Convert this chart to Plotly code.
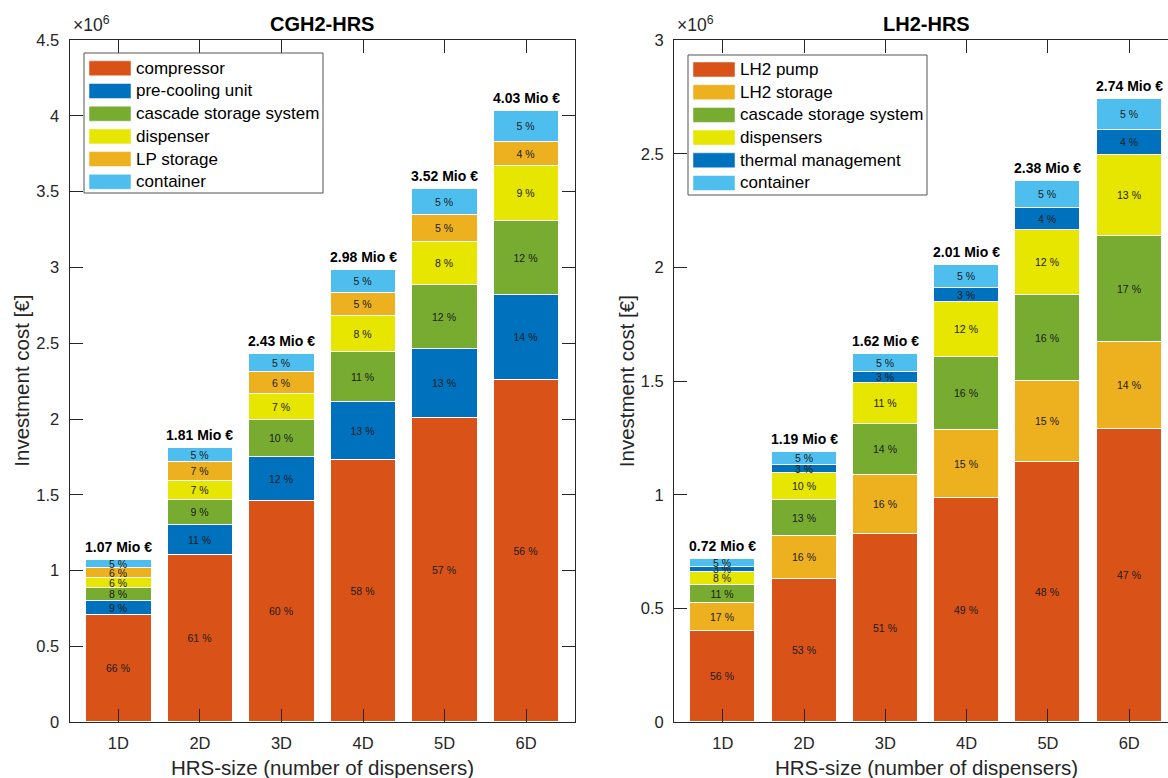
import plotly.graph_objects as go

# ---- data -------------------------------------------------------------
categories = ["1D", "2D", "3D", "4D", "5D", "6D"]
positions = [1, 2, 3, 4, 5, 6]

# CGH2 station: total investment (Mio €) and cost shares (%)
cgh2_total = [1.07, 1.81, 2.43, 2.98, 3.52, 4.03]
cgh2_compressor = [66, 61, 60, 58, 57, 56]
cgh2_precooling = [9, 11, 12, 13, 13, 14]
cgh2_cascade = [8, 9, 10, 11, 12, 12]
cgh2_dispenser = [6, 7, 7, 8, 8, 9]
cgh2_lp_storage = [6, 7, 6, 5, 5, 4]
cgh2_container = [5, 5, 5, 5, 5, 5]

# LH2 station: total investment (Mio €) and cost shares (%)
lh2_total = [0.72, 1.19, 1.62, 2.01, 2.38, 2.74]
lh2_pump = [56, 53, 51, 49, 48, 47]
lh2_storage = [17, 16, 16, 15, 15, 14]
lh2_cascade = [11, 13, 14, 16, 16, 17]
lh2_dispensers = [8, 10, 11, 12, 12, 13]
lh2_thermal = [3, 3, 3, 3, 4, 4]
lh2_container = [5, 5, 5, 5, 5, 5]

y_ticks_cgh2 = [0, 0.5, 1, 1.5, 2, 2.5, 3, 3.5, 4, 4.5]
y_ticks_lh2 = [0, 0.5, 1, 1.5, 2, 2.5, 3]

# ---- colours ----------------------------------------------------------
C_RED = "#D95319"
C_BLUE = "#0072BD"
C_GREEN = "#77AC30"
C_YELLOW = "#E6E600"
C_ORANGE = "#EDB120"
C_CYAN = "#4DBEEE"
AX = "#262626"
FONT = "Liberation Sans, Arial, sans-serif"

cgh2_series = [
    ("compressor", cgh2_compressor, C_RED),
    ("pre-cooling unit", cgh2_precooling, C_BLUE),
    ("cascade storage system", cgh2_cascade, C_GREEN),
    ("dispenser", cgh2_dispenser, C_YELLOW),
    ("LP storage", cgh2_lp_storage, C_ORANGE),
    ("container", cgh2_container, C_CYAN),
]
lh2_series = [
    ("LH2 pump", lh2_pump, C_RED),
    ("LH2 storage", lh2_storage, C_ORANGE),
    ("cascade storage system", lh2_cascade, C_GREEN),
    ("dispensers", lh2_dispensers, C_YELLOW),
    ("thermal management", lh2_thermal, C_BLUE),
    ("container", lh2_container, C_CYAN),
]

# ---- layout geometry (pixels) ----------------------------------------
W, H = 1168, 778
PLOT_TOP, PLOT_BOTTOM = 40, 722.3


def fx(px):
    return px / W


def fy(py):
    return 1 - py / H


# the right panel runs past the page edge: its visible x-range is cut at W
panels = [
    dict(name="CGH2-HRS", series=cgh2_series, total=cgh2_total, yticks=y_ticks_cgh2,
         x0=69.5, x1=575, full_x1=575, legend_box=(84, 53, 323, 193), row0=68.3),
    dict(name="LH2-HRS", series=lh2_series, total=lh2_total, yticks=y_ticks_lh2,
         x0=674, x1=W, full_x1=1178, legend_box=(688, 55, 927, 195), row0=69.5),
]

fig = go.Figure()
annotations = []
shapes = []

for i, p in enumerate(panels):
    suffix = "" if i == 0 else str(i + 1)
    for label, shares, color in p["series"]:
        values = [t * s / 100 * 1e6 for t, s in zip(p["total"], shares)]
        fig.add_trace(go.Bar(
            x=positions, y=values, name=label,
            marker=dict(color=color, line=dict(color="white", width=1)),
            width=0.8,
            text=[f"{s} %" for s in shares],
            textposition="inside", insidetextanchor="middle", textangle=0,
            textfont=dict(size=10.5, color="#1a1a1a", family=FONT),
            xaxis="x" + suffix, yaxis="y" + suffix,
            showlegend=False, hoverinfo="skip",
        ))

    # total labels above each bar
    for xpos, tot in zip(positions, p["total"]):
        annotations.append(dict(
            x=xpos, y=tot * 1e6, xref="x" + suffix, yref="y" + suffix,
            text=f"<b>{tot:.2f} Mio €</b>", showarrow=False,
            yanchor="bottom", yshift=3,
            font=dict(size=14, color="black", family=FONT),
        ))

    ymax = p["yticks"][-1]
    full_span = (p["full_x1"] - p["x0"]) / (6.6 - 0.4)
    x_hi = 0.4 + (p["x1"] - p["x0"]) / full_span
    clipped = p["x1"] < p["full_x1"]
    axis_common = dict(
        showline=True, linecolor=AX, linewidth=1,
        ticks="inside", ticklen=13, tickcolor=AX, tickwidth=1,
        showgrid=False, zeroline=False, automargin=False,
        tickfont=dict(size=16.5, color=AX, family=FONT),
    )
    fig.update_layout({
        "xaxis" + suffix: dict(
            domain=[fx(p["x0"]), fx(p["x1"])], anchor="y" + suffix,
            range=[0.4, x_hi], tickvals=positions, ticktext=categories,
            mirror="ticks", ticklabelstandoff=6, **axis_common),
        "yaxis" + suffix: dict(
            domain=[fy(PLOT_BOTTOM), fy(PLOT_TOP)], anchor="x" + suffix,
            range=[0, ymax * 1e6],
            tickvals=[v * 1e6 for v in p["yticks"]],
            ticktext=[f"{v:g}" for v in p["yticks"]],
            mirror=False if clipped else "ticks",
            ticklabelstandoff=6, **axis_common),
    })
    if clipped:
        # tips of the right-hand mirror ticks that show at the page edge
        fig.update_layout(yaxis3=dict(
            overlaying="y2", anchor="free", position=1.0, side="right",
            range=[0, ymax * 1e6], tickvals=[v * 1e6 for v in p["yticks"]],
            ticks="inside", ticklen=4, tickcolor=AX, tickwidth=1,
            showticklabels=False, showline=False, showgrid=False, zeroline=False,
            automargin=False, domain=[fy(PLOT_BOTTOM), fy(PLOT_TOP)],
        ))

    cx = (p["x0"] + p["full_x1"]) / 2
    # panel title
    annotations.append(dict(
        x=fx(cx), y=fy(24), xref="paper", yref="paper", showarrow=False,
        text=f"<b>{p['name']}</b>", xanchor="center", yanchor="middle",
        font=dict(size=20, color="black", family=FONT)))
    # exponent marker
    annotations.append(dict(
        x=fx(p["x0"] + 1), y=fy(37), xref="paper", yref="paper", showarrow=False,
        text="×10<sup>6</sup>", xanchor="left", yanchor="bottom",
        font=dict(size=17.5, color=AX, family=FONT)))
    # axis titles
    annotations.append(dict(
        x=fx(cx), y=fy(767), xref="paper", yref="paper", showarrow=False,
        text="HRS-size (number of dispensers)", xanchor="center", yanchor="middle",
        font=dict(size=20.5, color=AX, family=FONT)))
    annotations.append(dict(
        x=fx(p["x0"] - 48), y=fy((PLOT_TOP + PLOT_BOTTOM) / 2), xref="paper", yref="paper",
        showarrow=False, text="Investment cost [€]", textangle=-90,
        xanchor="center", yanchor="middle",
        font=dict(size=20.5, color=AX, family=FONT)))

    # legend box with wide colour swatches
    bx0, by0, bx1, by1 = p["legend_box"]
    shapes.append(dict(type="rect", xref="paper", yref="paper",
                       x0=fx(bx0), x1=fx(bx1), y0=fy(by1), y1=fy(by0),
                       line=dict(color="#555555", width=1), fillcolor="white"))
    for k, (label, _, color) in enumerate(p["series"]):
        ry = p["row0"] + 22.7 * k
        shapes.append(dict(type="rect", xref="paper", yref="paper",
                           x0=fx(bx0 + 5), x1=fx(bx0 + 47), y0=fy(ry + 7.5), y1=fy(ry - 7.5),
                           line=dict(color="white", width=0.5), fillcolor=color))
        annotations.append(dict(
            x=fx(bx0 + 50), y=fy(ry), xref="paper", yref="paper", showarrow=False,
            text=label, xanchor="left", yanchor="middle",
            font=dict(size=17, color="black", family=FONT)))

fig.update_layout(
    template="none",
    width=W, height=H,
    margin=dict(l=0, r=0, t=0, b=0, pad=0, autoexpand=False),
    barmode="stack", bargap=0,
    paper_bgcolor="white", plot_bgcolor="white",
    uniformtext=dict(minsize=10.5, mode="show"),
    annotations=annotations, shapes=shapes,
    showlegend=False,
    font=dict(family=FONT),
)

fig.write_html("out.html")
